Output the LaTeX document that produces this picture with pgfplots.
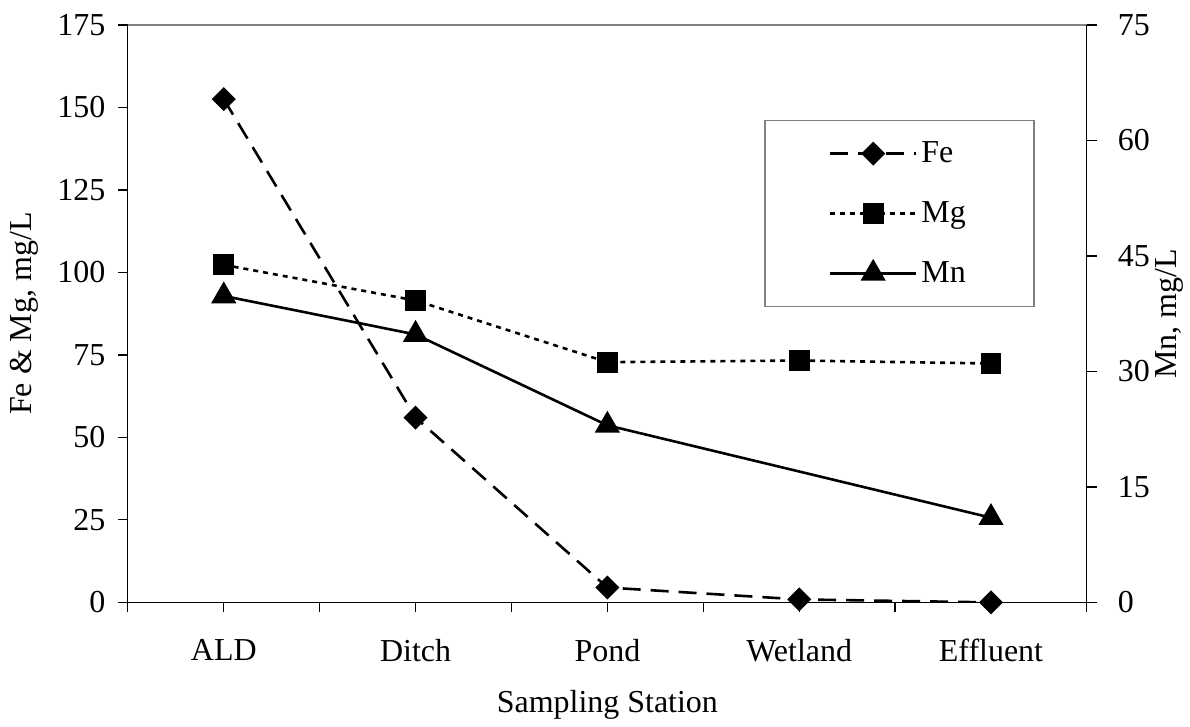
\documentclass[border=0pt]{standalone}
\usepackage{fontspec}
\setmainfont{Liberation Serif}
\usepackage{pgfplots}
\pgfplotsset{compat=1.18}
\begin{document}
\begin{tikzpicture}
\pgfplotsset{
  common/.style={
    width=480pt, height=289pt, scale only axis,
    at={(0,0)}, anchor=south west,
    xmin=-0.5, xmax=4.5,
    font=\fontsize{16}{19.2}\selectfont,
    /pgf/number format/assume math mode=true,
    tick align=outside,
    major tick length=5pt, minor tick length=5pt,
    every tick/.style={black, line width=0.6pt},
    axis line style={line width=0.6pt},
  },
  feline/.style={black, line width=1.3pt, dash pattern=on 9pt off 5pt, mark=square*, mark size=3.6pt, mark options={solid, rotate=45}},
  mgline/.style={black, line width=1.3pt, dash pattern=on 2.5pt off 2.5pt, mark=square*, mark size=4.6pt, mark options={solid}},
  mnline/.style={black, line width=1.3pt, solid, mark=triangle*, mark size=6pt, mark options={solid}},
}
\begin{axis}[common,
  axis x line*=top, axis y line=none,
  ymin=0, ymax=1, xtick=\empty, ytick=\empty,
  axis line style={gray, line width=1pt, shorten <=-5pt, shorten >=-5pt, -},
]
\end{axis}
\begin{axis}[common,
  axis y line*=left, axis x line*=bottom,
  ymin=0, ymax=175, ytick={0,25,...,175},
  xtick={0,1,2,3,4},
  xticklabels={ALD,Ditch,Pond,Wetland,Effluent},
  minor xtick={-0.5,0.5,1.5,2.5,3.5,4.5},
  xticklabel style={yshift=-10pt},
  yticklabel style={xshift=-2.7pt},
  ylabel={Fe \& Mg, mg/L},
  ylabel style={at={(axis description cs:-0.108,0.5)}, anchor=center},
  xlabel={Sampling Station},
  xlabel style={at={(axis description cs:0.5,-0.178)}, anchor=center},
]
\addplot[feline] coordinates {(0,152.5) (1,56) (2,4.5) (3,0.9) (4,0)};
\addplot[mgline] coordinates {(0,102.3) (1,91.5) (2,72.8) (3,73.3) (4,72.4)};
\end{axis}
\begin{axis}[common,
  axis y line*=right, axis x line=none,
  ymin=0, ymax=75, ytick={0,15,...,75},
  yticklabel style={xshift=7pt},
  ylabel={Mn, mg/L},
  ylabel style={at={(axis description cs:1.086,0.5)}, anchor=center},
  legend style={at={(axis description cs:0.6635,0.8356)}, anchor=north west,
    draw=gray, line width=0.8pt, inner xsep=32pt, inner ysep=8.5pt,
    row sep=14pt, font=\fontsize{16}{19.2}\selectfont},
  legend cell align=left,
  legend image code/.code={\draw[mark repeat=2, mark phase=2, #1] plot coordinates {(0pt,0pt) (21.5pt,0pt) (43pt,0pt)};},
]
\addlegendimage{feline}
\addlegendentry{Fe}
\addlegendimage{mgline}
\addlegendentry{Mg}
\addplot[mnline] coordinates {(0,39.8) (1,34.8) (2,23.0) (4,11.0)};
\addlegendentry{Mn}
\end{axis}
\path[use as bounding box] (-64pt,-59pt) rectangle (531pt,301.5pt);
\end{tikzpicture}
\end{document}
